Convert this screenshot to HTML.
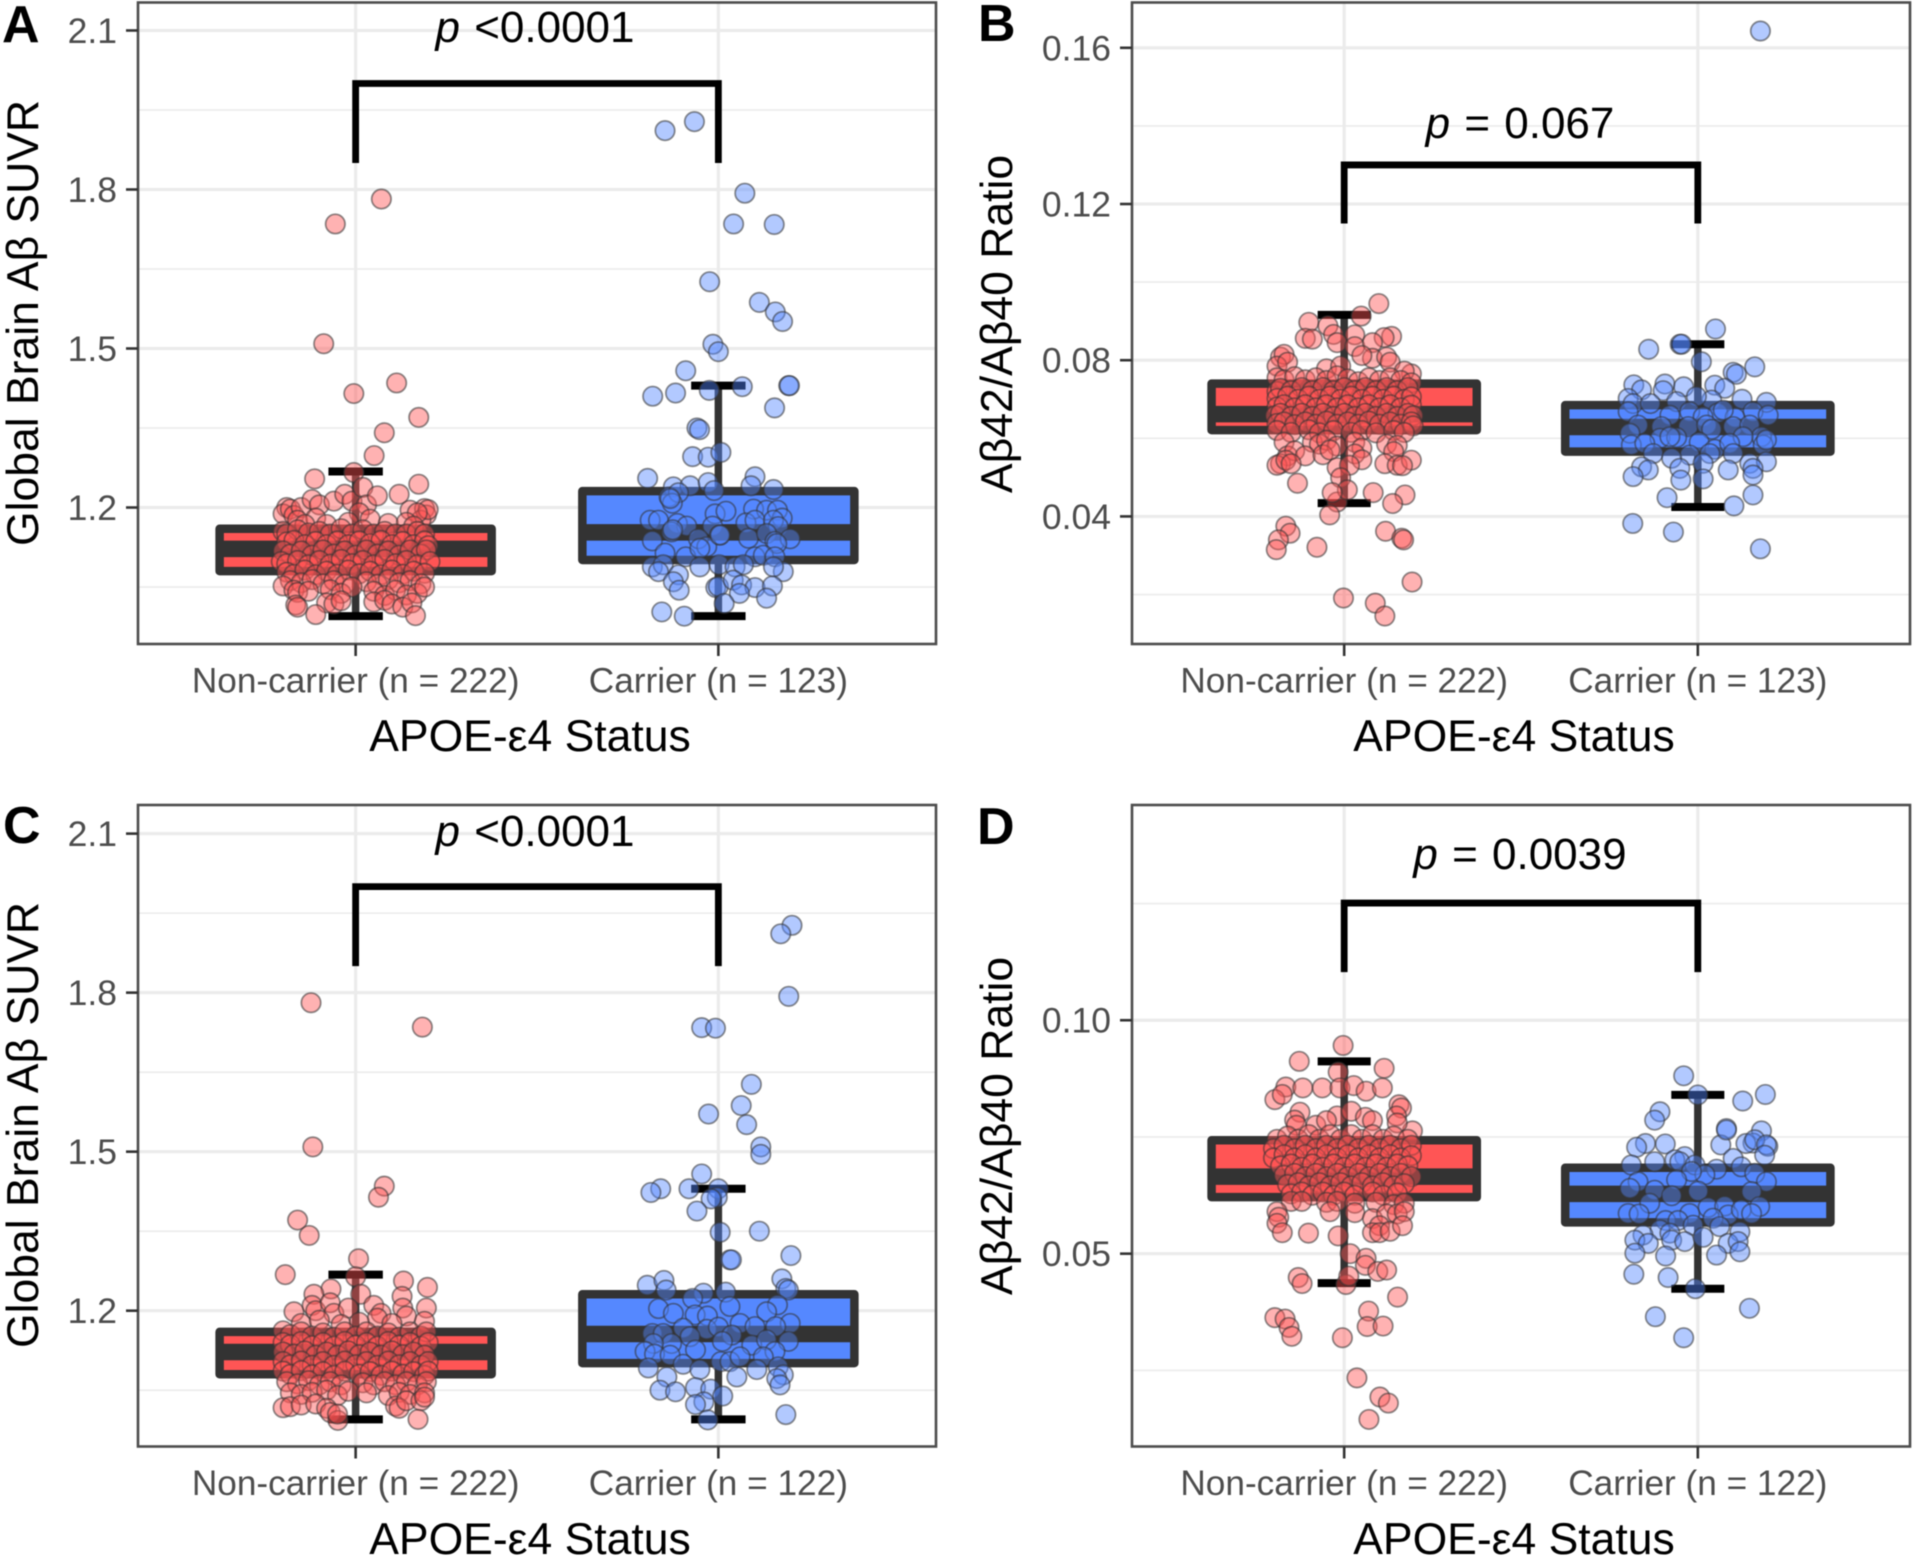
<!DOCTYPE html>
<html lang="en">
<head>
<meta charset="utf-8">
<title>Amyloid biomarkers by APOE-ε4 status</title>
<style>
html,body{margin:0;padding:0;background:#fff;width:1913px;height:1557px;overflow:hidden}
svg{display:block;font-family:"Liberation Sans",sans-serif;filter:blur(.5px)}
.ytitle,.xtitle{font-size:44.5px;fill:#000}
.ptext{font-size:44px;fill:#000;text-anchor:middle;word-spacing:2px}
.letter{font-size:52px;font-weight:bold;fill:#000}
.ytitle{text-anchor:middle}
.xtitle{text-anchor:middle}
</style>
</head>
<body>
<svg id="figure" width="1913" height="1557" viewBox="0 0 1913 1557" xmlns="http://www.w3.org/2000/svg">
<rect width="1913" height="1557" fill="#fff"/>
<g id="panel-a"></g>
<g id="panel-b"></g>
<g id="panel-c"></g>
<g id="panel-d"></g>

<text class="letter" x="2" y="42">A</text>
<text class="letter" x="978" y="41">B</text>
<text class="letter" x="3" y="843">C</text>
<text class="letter" x="977" y="844">D</text>

<text class="ytitle" transform="translate(38,323) rotate(-90)">Global Brain Aβ SUVR</text>
<text class="ytitle" transform="translate(1012,324) rotate(-90)">Aβ42/Aβ40 Ratio</text>
<text class="ytitle" transform="translate(38,1125) rotate(-90)">Global Brain Aβ SUVR</text>
<text class="ytitle" transform="translate(1012,1126) rotate(-90)">Aβ42/Aβ40 Ratio</text>

<text class="xtitle" x="530" y="751">APOE-ε4 Status</text>
<text class="xtitle" x="1514" y="751">APOE-ε4 Status</text>
<text class="xtitle" x="530" y="1554">APOE-ε4 Status</text>
<text class="xtitle" x="1514" y="1554">APOE-ε4 Status</text>

<text class="ptext" x="535" y="42"><tspan font-style="italic">p</tspan> &lt;0.0001</text>
<text class="ptext" x="1520" y="138"><tspan font-style="italic">p</tspan> = 0.067</text>
<text class="ptext" x="535" y="846"><tspan font-style="italic">p</tspan> &lt;0.0001</text>
<text class="ptext" x="1520" y="869"><tspan font-style="italic">p</tspan> = 0.0039</text>
</svg>

<script>
// ---------- shared categories ----------
const groupNames = ['non-carrier', 'carrier'];
const categoriesAB = ['Non-carrier (n = 222)', 'Carrier (n = 123)'];
const categoriesCD = ['Non-carrier (n = 222)', 'Carrier (n = 122)'];

// ---------- y-axis ticks ----------
const suvrTicks = [1.2, 1.5, 1.8, 2.1];
const suvrTickLabels = ['1.2', '1.5', '1.8', '2.1'];
const suvrMinorTicks = [1.05, 1.35, 1.65, 1.95];
const ratioBTicks = [0.04, 0.08, 0.12, 0.16];
const ratioBTickLabels = ['0.04', '0.08', '0.12', '0.16'];
const ratioBMinorTicks = [0.02, 0.06, 0.10, 0.14];
const ratioDTicks = [0.05, 0.10];
const ratioDTickLabels = ['0.05', '0.10'];
const ratioDMinorTicks = [0.025, 0.075, 0.125];

// ---------- box statistics: [non-carrier, carrier] ----------
const aLow = [0.995, 0.995], aQ1 = [1.08, 1.101], aMedian = [1.122, 1.153], aQ3 = [1.16, 1.231], aHigh = [1.268, 1.43];
const bLow = [0.0434, 0.0424], bQ1 = [0.0621, 0.0566], bMedian = [0.0662, 0.0629], bQ3 = [0.074, 0.0685], bHigh = [0.0916, 0.0841];
const cLow = [0.995, 0.995], cQ1 = [1.08, 1.101], cMedian = [1.122, 1.156], cQ3 = [1.16, 1.231], cHigh = [1.268, 1.43];
const dLow = [0.0437, 0.0425], dQ1 = [0.0621, 0.0567], dMedian = [0.0665, 0.0628], dQ3 = [0.0743, 0.0684], dHigh = [0.0912, 0.084];

// ---------- significance brackets: [top value, leg-end value] ----------
const aBracket = [2.0, 1.85];
const bBracket = [0.13, 0.115];
const cBracket = [2.0, 1.85];
const dBracket = [0.1251, 0.1103];

// ---------- observations: [horizontal jitter in category units, measured value] ----------
const aRedPoints = [[.071,1.782],[-.056,1.735],[-.088,1.509],[.113,1.435],[-.005,1.415],[.174,1.37],[.079,1.341],[.051,1.298],[-.005,1.266],[-.113,1.254],[.174,1.244],
[-.19,1.2],[-.2,1.188],[-.18,1.197],[-.17,1.185],[-.15,1.2],[-.16,1.176],[-.12,1.215],[-.1,1.205],[-.11,1.18],[-.06,1.212],[-.03,1.225],[-.01,1.212],[.02,1.238],[.03,1.205],[.06,1.222],[.12,1.225],[.15,1.195],[.19,1.198],[.195,1.186],[.18,1.176],[.2,1.196],[.17,1.19],[.01,1.19],[.04,1.178],[-.14,1.168],[-.08,1.168],[-.02,1.172],[.09,1.17],[.14,1.172],[.16,1.165],
[-.2,1.155],[-.19,1.15],[-.16,1.158],[-.13,1.152],[-.1,1.155],[-.07,1.15],[-.04,1.16],[-.01,1.15],[.02,1.158],[.05,1.15],[.08,1.155],[.11,1.15],[.14,1.15],[.17,1.155],[.19,1.15],
[-.19,1.135],[-.17,1.138],[-.14,1.13],[-.11,1.136],[-.08,1.13],[-.05,1.137],[-.02,1.13],[.01,1.137],[.04,1.132],[.07,1.138],[.1,1.13],[.13,1.136],[.16,1.13],[.19,1.137],[.2,1.128],
[-.2,1.118],[-.18,1.112],[-.15,1.118],[-.12,1.11],[-.09,1.12],[-.06,1.112],[-.03,1.118],[0,1.11],[.03,1.12],[.06,1.112],[.09,1.118],[.12,1.11],[.15,1.12],[.18,1.112],[.195,1.12],
[-.205,1.098],[-.19,1.094],[-.16,1.1],[-.13,1.092],[-.1,1.1],[-.07,1.093],[-.04,1.102],[-.01,1.094],[.02,1.1],[.05,1.092],[.08,1.102],[.11,1.094],[.14,1.1],[.17,1.092],[.205,1.098],
[-.19,1.078],[-.17,1.074],[-.14,1.082],[-.11,1.073],[-.08,1.08],[-.05,1.074],[-.02,1.082],[.01,1.075],[.04,1.08],[.07,1.073],[.1,1.082],[.13,1.074],[.16,1.08],[.19,1.076],
[-.18,1.062],[-.15,1.058],[-.12,1.064],[-.09,1.056],[-.06,1.062],[-.03,1.055],[.03,1.06],[.06,1.055],[.09,1.064],[.12,1.058],[.15,1.062],[.18,1.056],
[-.2,1.052],[-.17,1.044],[-.16,1.04],[-.13,1.042],[-.07,1.045],[-.04,1.038],[-.01,1.05],[.05,1.042],[.08,1.034],[.11,1.044],[.14,1.035],[.17,1.038],[.19,1.05],
[-.165,1.016],[-.16,1.012],[-.08,1.02],[-.06,1.018],[-.04,1.024],[.05,1.022],[.08,1.025],[.1,1.018],[.13,1.012],[.155,1.02],[-.11,.998],[.165,.996]];
const aBluePoints = [[-.066,1.928],[-.147,1.911],[.073,1.793],[.042,1.735],[.154,1.734],[-.024,1.626],[.113,1.587],[.157,1.569],[.177,1.551],[-.015,1.508],[0,1.494],[-.09,1.458],[-.118,1.416],[-.181,1.41],[-.025,1.421],[.066,1.428],[.194,1.43],[.196,1.43],[.155,1.388],[-.059,1.35],[-.052,1.347],[-.071,1.296],[-.028,1.295],[.007,1.304],
[-.195,1.255],[.101,1.258],[.09,1.241],[.152,1.234],[-.124,1.239],[-.078,1.241],[-.028,1.247],[-.012,1.232],
[-.136,1.22],[-.11,1.228],[-.127,1.208],[-.133,1.217],[-.009,1.188],[.021,1.193],[.097,1.197],[.133,1.195],[.163,1.195],[.176,1.18],
[-.188,1.176],[-.165,1.176],[-.113,1.17],[-.087,1.165],[-.129,1.154],[-.016,1.165],[.003,1.148],[.076,1.171],[.101,1.176],[.152,1.176],[.165,1.164],
[-.182,1.137],[-.126,1.158],[-.055,1.141],[-.032,1.126],[.005,1.148],[.083,1.142],[.133,1.151],[.156,1.136],[.198,1.141],[.161,1.132],
[-.147,1.114],[-.09,1.107],[-.051,1.123],[.101,1.107],[.124,1.11],[.156,1.107],
[-.182,1.088],[-.152,1.092],[-.165,1.079],[-.051,1.088],[.002,1.092],[.046,1.088],[.069,1.092],[.179,1.079],[.152,1.088],
[-.11,1.073],[-.124,1.06],[-.108,1.044],[-.007,1.049],[0,1.051],[.041,1.063],[.064,1.054],[.101,1.049],[.058,1.038],[.149,1.052],[.133,1.029],[.016,1.019],
[-.156,1.003],[-.094,.995]];
const cRedPoints = [[-.123,1.781],[.184,1.735],[-.118,1.509],[.079,1.435],[.063,1.414],[-.16,1.371],[-.128,1.342],[.008,1.298],[-.194,1.268],[0,1.264],[.132,1.256],[.198,1.244],[-.068,1.241],[-.115,1.231],[.014,1.231],[.128,1.227],
[-.17,1.198],[-.12,1.21],[-.11,1.2],[-.07,1.215],[-.06,1.195],[-.02,1.205],[.05,1.21],[.07,1.195],[.06,1.186],[.13,1.205],[.195,1.205],[.14,1.19],[.19,1.18],[-.15,1.176],[-.1,1.182],[-.04,1.174],[.01,1.178],[.1,1.176],
[-.2,1.162],[-.18,1.155],[-.15,1.16],[-.12,1.152],[-.09,1.158],[-.06,1.15],[-.03,1.16],[0,1.152],[.03,1.16],[.06,1.152],[.09,1.158],[.12,1.15],[.15,1.16],[.18,1.152],[.195,1.16],
[-.2,1.14],[-.18,1.136],[-.15,1.142],[-.12,1.134],[-.09,1.14],[-.06,1.133],[-.03,1.142],[0,1.135],[.03,1.14],[.06,1.133],[.09,1.142],[.12,1.135],[.15,1.14],[.18,1.133],[.2,1.14],
[-.2,1.122],[-.17,1.118],[-.14,1.124],[-.11,1.116],[-.08,1.122],[-.05,1.116],[-.02,1.124],[.01,1.117],[.04,1.122],[.07,1.116],[.1,1.124],[.13,1.117],[.16,1.122],[.19,1.116],
[-.2,1.104],[-.18,1.098],[-.15,1.105],[-.12,1.097],[-.09,1.104],[-.06,1.097],[-.03,1.105],[0,1.098],[.03,1.104],[.06,1.097],[.09,1.105],[.12,1.098],[.15,1.104],[.18,1.097],[.2,1.104],
[-.2,1.086],[-.18,1.08],[-.15,1.087],[-.12,1.079],[-.09,1.085],[-.06,1.078],[-.03,1.086],[.01,1.08],[.04,1.085],[.07,1.078],[.1,1.086],[.13,1.08],[.16,1.085],[.19,1.078],[.2,1.086],
[-.19,1.066],[-.16,1.062],[-.13,1.068],[-.1,1.06],[-.07,1.066],[-.04,1.06],[.02,1.064],[.05,1.06],[.08,1.066],[.11,1.06],[.14,1.066],[.17,1.06],[.195,1.066],
[-.18,1.045],[-.15,1.042],[-.12,1.046],[-.08,1.05],[-.05,1.04],[-.02,1.048],[.03,1.045],[.09,1.04],[.12,1.046],[.15,1.042],[.19,1.045],
[-.2,1.017],[-.18,1.019],[-.15,1.022],[-.11,1.024],[-.08,1.016],[-.07,1.008],[.11,1.02],[.12,1.016],[.14,1.03],[.18,1.03],[.19,1.037],[.172,.995],[-.049,.993],[-.05,1.005]];
const cBluePoints = [[.203,1.927],[.172,1.911],[.194,1.793],[-.046,1.734],[-.008,1.733],[.091,1.627],[.063,1.587],[-.027,1.571],[.078,1.551],[.117,1.509],[.117,1.495],[-.046,1.458],[-.159,1.43],[-.186,1.423],[-.081,1.43],[0,1.43],[-.003,1.414],[-.02,1.411],[-.059,1.388],[.005,1.348],[.113,1.35],[.032,1.296],[.036,1.296],[.2,1.304],
[.175,1.26],[-.196,1.248],[-.15,1.257],[-.144,1.239],[.186,1.242],[.193,1.239],[-.041,1.233],[.02,1.235],
[-.071,1.223],[-.165,1.204],[.032,1.208],[.163,1.211],[.133,1.198],[-.124,1.195],[-.064,1.192],[-.03,1.19],[.06,1.176],[.198,1.176],
[-.097,1.167],[.101,1.17],[.158,1.17],[-.032,1.165],[0,1.169],[-.182,1.157],[-.152,1.157],[-.078,1.151],[.037,1.154],[-.129,1.138],[.011,1.142],[.092,1.135],[.193,1.142],[.133,1.145],[-.179,1.138],
[-.202,1.123],[-.176,1.118],[-.063,1.126],[.156,1.123],[-.133,1.116],[.124,1.113],
[-.193,1.092],[-.097,1.099],[-.051,1.089],[.007,1.104],[.032,1.104],[.06,1.113],[.106,1.089],[.165,1.094],
[-.142,1.075],[.051,1.075],[.179,1.079],[.161,1.072],[-.063,1.055],[-.021,1.052],[-.161,1.05],[-.118,1.047],[.17,1.06],[.012,1.039],[-.04,1.028],[-.063,1.023],[.186,1.004],[-.029,.994]];
const bRedPoints = [[.098,.0945],[.048,.0913],[-.1,.0897],[-.046,.0888],[.134,.0861],[.113,.0858],[-.11,.0856],[-.09,.0854],[-.03,.0866],[.03,.0865],[-.02,.0845],[.03,.0835],[.08,.0845],
[-.18,.0808],[-.17,.0815],[-.19,.0785],[-.16,.0795],[.08,.0805],[.12,.0808],[.13,.0795],[.05,.0812],[.19,.0765],[.17,.0772],[-.05,.0778],[-.01,.0785],
[-.19,.0755],[-.17,.075],[-.14,.0758],[-.11,.075],[-.08,.0755],[-.05,.0748],[-.02,.076],[.01,.0752],[.04,.0745],[.07,.0755],[.1,.0748],[.13,.0755],[.16,.0748],[.19,.0742],
[-.19,.072],[-.18,.0728],[-.15,.0722],[-.12,.073],[-.09,.0722],[-.06,.073],[-.03,.0722],[0,.073],[.03,.0722],[.06,.073],[.09,.0722],[.12,.073],[.15,.0722],[.18,.073],
[-.19,.0702],[-.16,.0708],[-.13,.07],[-.1,.0708],[-.07,.07],[-.04,.0708],[-.01,.07],[.02,.0708],[.05,.07],[.08,.0708],[.11,.07],[.14,.0708],[.17,.07],[.19,.0706],
[-.19,.068],[-.17,.0686],[-.14,.0678],[-.11,.0686],[-.08,.0678],[-.05,.0686],[-.02,.0678],[.01,.0686],[.04,.0678],[.07,.0686],[.1,.0678],[.13,.0686],[.16,.0678],[.19,.0685],
[-.195,.0658],[-.18,.0664],[-.15,.0656],[-.12,.0664],[-.09,.0656],[-.06,.0664],[-.03,.0656],[0,.0664],[.03,.0656],[.06,.0664],[.09,.0656],[.12,.0664],[.15,.0656],[.18,.0664],[.195,.0658],
[-.19,.0638],[-.17,.0642],[-.14,.0635],[-.11,.0642],[-.08,.0636],[-.05,.0644],[-.02,.0636],[.01,.0642],[.04,.0636],[.07,.0644],[.1,.0636],[.13,.0642],[.16,.0636],[.19,.0642],[.195,.0632],
[-.19,.062],[-.15,.0615],[-.1,.0622],[-.07,.0614],[-.03,.062],[.02,.0615],[.05,.062],[.09,.0614],[.14,.062],[.17,.0615],
[-.17,.059],[-.09,.059],[-.07,.0585],[-.05,.0595],[-.02,.058],[.03,.059],[.05,.0575],[.12,.0585],[.15,.0582],
[-.16,.0555],[-.14,.0568],[-.11,.0555],[-.06,.0558],[-.04,.057],[.03,.056],[.05,.0545],[.14,.0566],
[-.18,.0535],[-.19,.0531],[-.165,.0544],[-.15,.0535],[-.02,.0525],[.015,.0531],[.115,.0535],[.15,.0531],[.19,.0544],[.165,.053],[-.01,.0499],[-.132,.0485],
[.172,.0455],[.082,.0461],[.137,.0433],[-.02,.0437],[-.041,.0404],[.009,.0468],[-.034,.0461],[-.165,.0375],[-.153,.0357],[-.186,.034],[-.192,.0315],[-.077,.0321],[.117,.0362],[.163,.0344],[.168,.034],[.192,.0232],[-.002,.0191],[.088,.0178],[.115,.0145]];
const bBluePoints = [[.177,.1643],[.05,.088],[-.139,.0828],[-.05,.0841],[-.046,.0841],[.01,.0796],[.161,.0783],[.1,.0769],[.109,.0764],
[-.181,.0737],[-.093,.0739],[-.04,.0732],[.048,.0736],[.076,.0728],[-.159,.0724],[-.098,.0722],[-.197,.0702],[.125,.07],[.039,.0698],[-.06,.0694],[-.004,.0707],[.194,.0692],[-.183,.0689],[-.134,.0689],
[-.197,.0668],[-.023,.0668],[.057,.0665],[-.079,.0659],[.156,.0668],[.199,.0659],[.105,.0653],[.015,.0655],[.072,.0672],
[-.169,.0634],[-.103,.063],[-.027,.063],[.025,.0634],[.039,.0623],[.1,.063],[.147,.0634],[-.192,.0613],
[-.107,.06],[-.06,.0602],[.18,.0604],[.128,.0604],[-.079,.0604],[-.188,.0583],[-.15,.0587],[.004,.059],[.048,.0572],[.09,.0587],[.185,.0583],[.194,.0596],
[-.023,.0557],[.1,.0561],[-.126,.0561],[.034,.0561],[-.074,.0549],[-.159,.0527],[-.14,.0519],[.015,.0536],[.147,.0536],[.194,.054],[-.051,.0523],[.086,.0519],[.156,.0523],
[-.183,.0502],[-.048,.0493],[.015,.0496],[.156,.0506],[-.087,.0448],[.156,.0455],[.102,.0427],[-.184,.0382],[-.069,.036],[.177,.0317]];
const dRedPoints = [[-.003,.0946],[-.127,.0912],[.113,.0897],[-.017,.0889],[-.165,.0857],[-.117,.0855],[-.062,.0855],[-.012,.0855],[.027,.086],[.062,.0848],[.108,.0855],[-.196,.083],[-.175,.0841],[.155,.0819],[.162,.0812],[.148,.0795],[-.125,.0803],[-.14,.0786],[.193,.0763],
[-.02,.0795],[.02,.0805],[.06,.0792],[.08,.0785],[.15,.078],[-.08,.0775],[-.05,.0785],[-.135,.0775],
[-.19,.0745],[-.16,.0752],[-.13,.0745],[-.1,.0755],[-.07,.0745],[-.04,.0755],[-.01,.0745],[.02,.0755],[.05,.0745],[.08,.0755],[.11,.0745],[.14,.0752],[.18,.0745],
[-.2,.0725],[-.17,.0732],[-.14,.0725],[-.11,.0732],[-.08,.0725],[-.05,.0732],[-.02,.0725],[.01,.0732],[.04,.0725],[.07,.0732],[.1,.0725],[.13,.0732],[.16,.0725],[.19,.0732],
[-.2,.0705],[-.17,.0712],[-.14,.0705],[-.11,.0712],[-.08,.0705],[-.05,.0712],[-.02,.0705],[.01,.0712],[.04,.0705],[.07,.0712],[.1,.0705],[.13,.0712],[.16,.0705],[.19,.071],
[-.18,.0688],[-.15,.0692],[-.12,.0685],[-.09,.0692],[-.06,.0685],[-.03,.0692],[0,.0685],[.03,.0692],[.06,.0685],[.09,.0692],[.12,.0685],[.15,.0692],[.18,.0688],
[-.17,.0668],[-.14,.0672],[-.11,.0665],[-.08,.0672],[-.05,.0665],[-.02,.0672],[.01,.0665],[.04,.0672],[.07,.0665],[.1,.0672],[.13,.0665],[.16,.0672],[.19,.0665],
[-.16,.0648],[-.13,.0652],[-.1,.0645],[-.07,.0652],[-.04,.0645],[-.01,.0652],[.02,.0645],[.05,.0652],[.08,.0645],[.11,.0652],[.14,.0645],[.17,.065],
[-.15,.0628],[-.12,.0632],[-.09,.0625],[-.06,.0632],[-.03,.0625],[0,.0632],[.03,.0625],[.08,.0632],[.11,.0625],[.15,.063],
[-.15,.0612],[-.12,.0612],[-.05,.061],[-.02,.0612],[.03,.0608],[.09,.061],[.14,.0605],[.17,.0608],
[-.19,.059],[-.185,.0578],[-.04,.059],[.03,.0588],[.08,.0575],[.12,.0585],[.15,.0585],[.17,.059],[.1,.056],[-.19,.0565],[-.175,.0545],[-.101,.0544],[.08,.0545],[.1,.0545],[.13,.0548],[.165,.056],
[-.017,.0538],[.017,.05],[.062,.049],[.06,.0475],[.095,.0462],[.12,.0465],[-.13,.0449],[-.119,.0436],[.005,.0434],[.013,.0452],[.151,.0407],[-.196,.0363],[-.167,.036],[-.156,.0342],[-.148,.0323],[.069,.0377],[.065,.0344],[.11,.0345],[-.005,.032],[.036,.0234],[.101,.0193],[.125,.018],[.07,.0145]];
const dBluePoints = [[-.04,.0881],[0,.084],[.191,.0841],[.127,.0827],[-.107,.0804],[-.122,.0786],[.081,.0768],[.18,.0763],[.156,.0737],[.198,.073],[.065,.0733],[-.092,.0735],[-.148,.0736],[-.173,.0728],[.081,.0765],[.136,.0736],[.161,.0744],[.194,.0733],[.189,.0711],
[-.122,.0697],[-.037,.0708],[-.065,.0701],[-.051,.0697],[.1,.0704],[.123,.0686],[-.188,.069],[-.008,.069],[.053,.0681],[.02,.0669],[-.018,.0676],[.161,.0672],[.194,.0654],[-.06,.0658],[-.169,.0654],[-.192,.064],[-.122,.0636],[-.074,.0624],[.001,.0634],[.152,.0633],
[-.136,.0608],[.029,.0599],[.076,.0602],[.175,.0601],[-.197,.0586],[-.166,.0585],[-.023,.0586],[.086,.0583],[.123,.0594],[.152,.0586],[-.091,.0571],[-.056,.0571],[.043,.0576],[-.013,.0561],[.062,.0558],
[-.107,.0551],[.119,.0547],[-.079,.0544],[-.155,.054],[-.178,.0529],[-.14,.0522],[-.074,.0529],[-.037,.0526],[.015,.0535],[.086,.0522],[.114,.0526],
[-.178,.0501],[-.091,.0495],[.053,.0497],[.119,.0504],[-.181,.0456],[-.084,.0449],[-.007,.0425],[.146,.0383],[-.12,.0365],[-.04,.032]];

// ---------- drawing helpers ----------
const NS = 'http://www.w3.org/2000/svg';
const RED = '#ff5555';
const BLUE = '#5588ff';

function make(tag, attrs, parent) {
  const el = document.createElementNS(NS, tag);
  for (const k in attrs) el.setAttribute(k, attrs[k]);
  parent.appendChild(el);
  return el;
}

function drawPanel(cfg) {
  const root = document.getElementById(cfg.id);
  const plotW = cfg.right - cfg.left;
  const xScale = c => cfg.left + (c + 0.6) * plotW / 2.2;
  const xSpan = u => u * plotW / 2.2;
  const yScale = v => cfg.bottom - (v - cfg.domain[0]) / (cfg.domain[1] - cfg.domain[0]) * (cfg.bottom - cfg.top);

  make('rect', {x: cfg.left, y: cfg.top, width: plotW, height: cfg.bottom - cfg.top, fill: '#fff'}, root);

  cfg.minor.forEach(v => {
    const el = make('line', {x1: cfg.left, x2: cfg.right, y1: yScale(v), y2: yScale(v), stroke: '#ebebeb', 'stroke-width': 1.6}, root);
    
    
  });
  cfg.ticks.forEach(v => {
    const el = make('line', {x1: cfg.left, x2: cfg.right, y1: yScale(v), y2: yScale(v), stroke: '#ebebeb', 'stroke-width': 3.2}, root);
    
    
  });
  cfg.categories.forEach((c, i) => {
    const el = make('line', {x1: xScale(i), x2: xScale(i), y1: cfg.top, y2: cfg.bottom, stroke: '#ebebeb', 'stroke-width': 3.2}, root);
    
    
  });

  [0, 1].forEach(i => {
    const cx = xScale(i);
    const whisker = make('line', {x1: cx, x2: cx, y1: yScale(cfg.low[i]), y2: yScale(cfg.high[i]), stroke: '#333', 'stroke-width': 7.5}, root);
    
    
    [cfg.low[i], cfg.high[i]].forEach(v => {
      const cap = make('line', {x1: cx - xSpan(0.075), x2: cx + xSpan(0.075), y1: yScale(v), y2: yScale(v), stroke: '#000', 'stroke-width': 8}, root);
      
      
    });
    const hw = xSpan(0.375);
    const box = make('rect', {x: cx - hw, y: yScale(cfg.q3[i]), width: hw * 2, height: yScale(cfg.q1[i]) - yScale(cfg.q3[i]), fill: i ? BLUE : RED, stroke: '#333', 'stroke-width': 8.5, 'stroke-linejoin': 'round'}, root);
    
    
    const med = make('line', {x1: cx - hw, x2: cx + hw, y1: yScale(cfg.median[i]), y2: yScale(cfg.median[i]), stroke: '#333', 'stroke-width': 16.5}, root);
    
    
  });

  [cfg.redPoints, cfg.bluePoints].forEach((points, i) => {
    points.forEach(p => {
      const dot = make('circle', {cx: xScale(i) + xSpan(p[0]), cy: yScale(p[1]), r: 9.7, fill: i ? BLUE : RED, 'fill-opacity': 0.45, stroke: '#333', 'stroke-opacity': 0.55, 'stroke-width': 1.8}, root);
      
      
    });
  });

  const x0 = xScale(0), x1 = xScale(1), yTop = yScale(cfg.bracket[0]), yEnd = yScale(cfg.bracket[1]);
  const bracket = make('path', {d: 'M' + x0 + ' ' + yEnd + 'V' + yTop + 'H' + x1 + 'V' + yEnd, fill: 'none', stroke: '#000', 'stroke-width': 6.8}, root);
  
  

  const border = make('rect', {x: cfg.left, y: cfg.top, width: plotW, height: cfg.bottom - cfg.top, fill: 'none', stroke: '#4d4d4d', 'stroke-width': 2.6}, root);
  
  

  cfg.ticks.forEach((v, i) => {
    const tick = make('line', {x1: cfg.left - 12, x2: cfg.left, y1: yScale(v), y2: yScale(v), stroke: '#333', 'stroke-width': 2.6}, root);
    
    
    const label = make('text', {x: cfg.left - 21, y: yScale(v) + 12.5, 'text-anchor': 'end', 'font-size': 35.5, fill: '#4d4d4d'}, root);
    label.textContent = cfg.tickLabels[i];
    
    
  });
  cfg.categories.forEach((c, i) => {
    const tick = make('line', {x1: xScale(i), x2: xScale(i), y1: cfg.bottom, y2: cfg.bottom + 12, stroke: '#333', 'stroke-width': 2.6}, root);
    
    
    const label = make('text', {x: xScale(i), y: cfg.bottom + 48.5, 'text-anchor': 'middle', 'font-size': 35.2, fill: '#4d4d4d'}, root);
    label.textContent = c;
    
    
  });
}

drawPanel({id: 'panel-a', left: 138, right: 936, top: 2.5, bottom: 644, domain: [0.9425, 2.1528], ticks: suvrTicks, tickLabels: suvrTickLabels, minor: suvrMinorTicks, categories: categoriesAB, low: aLow, q1: aQ1, median: aMedian, q3: aQ3, high: aHigh, bracket: aBracket, redPoints: aRedPoints, bluePoints: aBluePoints});
drawPanel({id: 'panel-b', left: 1132, right: 1910, top: 2.5, bottom: 644, domain: [0.00733, 0.1716], ticks: ratioBTicks, tickLabels: ratioBTickLabels, minor: ratioBMinorTicks, categories: categoriesAB, low: bLow, q1: bQ1, median: bMedian, q3: bQ3, high: bHigh, bracket: bBracket, redPoints: bRedPoints, bluePoints: bBluePoints});
drawPanel({id: 'panel-c', left: 138, right: 936, top: 805, bottom: 1446.5, domain: [0.9438, 2.154], ticks: suvrTicks, tickLabels: suvrTickLabels, minor: suvrMinorTicks, categories: categoriesCD, low: cLow, q1: cQ1, median: cMedian, q3: cQ3, high: cHigh, bracket: cBracket, redPoints: cRedPoints, bluePoints: cBluePoints});
drawPanel({id: 'panel-d', left: 1132, right: 1910, top: 805, bottom: 1446.5, domain: [0.0087, 0.1461], ticks: ratioDTicks, tickLabels: ratioDTickLabels, minor: ratioDMinorTicks, categories: categoriesCD, low: dLow, q1: dQ1, median: dMedian, q3: dQ3, high: dHigh, bracket: dBracket, redPoints: dRedPoints, bluePoints: dBluePoints});
</script>
</body>
</html>
